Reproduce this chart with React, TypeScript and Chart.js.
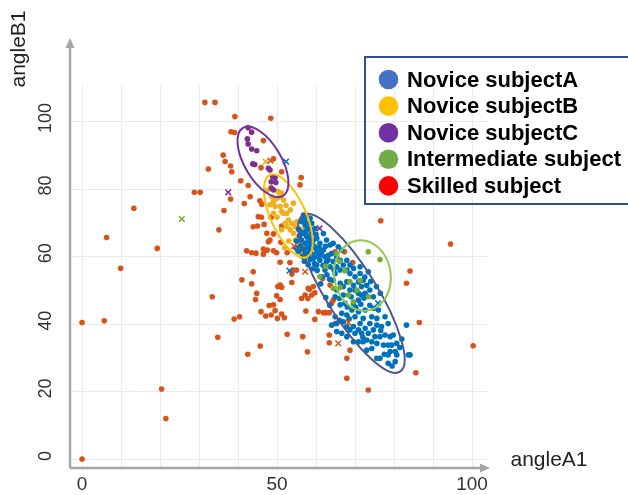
import React, { useEffect, useRef } from 'react';
import { Chart, registerables } from 'chart.js';

Chart.register(...registerables);

// ---------- data ----------
const xTickValues = [0, 50, 100];
const yTickValues = [0, 20, 40, 60, 80, 100];
const xGridValues = [0, 10, 20, 30, 40, 50, 60, 70, 80, 90, 100];
const yGridValues = [0, 20, 40, 60, 80, 100];
const xAxisTitle = 'angleA1';
const yAxisTitle = 'angleB1';

const legendLabels = ['Novice subjectA', 'Novice subjectB', 'Novice subjectC', 'Intermediate subject', 'Skilled subject'];
const legendColors = ['#4472C4', '#FFC000', '#7030A0', '#70AD47', '#FF0000'];

const noviceA: [number, number][] = [
  [56.3, 70.2], [57.2, 69.2], [58.0, 68.2], [56.8, 66.7], [57.6, 65.8], [58.9, 66.7], [59.3, 64.8], [60.2, 65.3],
  [61.0, 63.8], [59.7, 62.8], [58.5, 61.8], [60.6, 61.3], [61.9, 61.8], [62.3, 59.8], [63.2, 60.3], [64.0, 60.8],
  [61.0, 58.8], [62.7, 58.4], [64.4, 58.4], [63.6, 56.9], [65.3, 56.9], [66.2, 55.9], [67.0, 57.4], [67.9, 55.9],
  [68.7, 54.9], [69.6, 56.4], [70.0, 53.9], [71.3, 54.9], [70.9, 52.4], [72.1, 52.9], [73.0, 51.4], [71.7, 51.0],
  [69.6, 51.4], [67.9, 52.4], [67.0, 51.0], [68.7, 50.0], [70.0, 50.0], [70.9, 49.0], [72.6, 49.0], [73.8, 50.0],
  [74.7, 48.0], [67.0, 48.5], [65.3, 50.0], [66.2, 52.0], [64.4, 52.9], [64.9, 54.9], [62.3, 55.9], [61.5, 53.9],
  [60.2, 57.4], [59.3, 59.3], [57.6, 60.8], [57.2, 63.8], [56.3, 64.8], [65.3, 59.8], [66.2, 58.8], [66.6, 61.8],
  [73.4, 55.4], [71.3, 56.9], [61.9, 66.7], [62.7, 64.8], [63.6, 63.3], [58.9, 69.7], [59.7, 68.2], [57.6, 71.7],
  [56.8, 72.2], [58.5, 71.2], [64.4, 63.8], [65.7, 62.8], [67.9, 58.8], [68.7, 57.4],
  [64.9, 48.0], [66.2, 45.6], [67.4, 46.1], [66.6, 43.1], [67.9, 42.6], [69.2, 44.1], [69.6, 46.1], [70.9, 47.0],
  [71.7, 48.5], [72.3, 47.6], [64.9, 42.1], [65.3, 40.1], [67.0, 40.6], [70.0, 42.1], [70.9, 43.6], [72.1, 41.6],
  [72.6, 44.1], [74.3, 42.1], [73.8, 40.1], [71.3, 40.1], [69.6, 39.2], [68.7, 38.2], [66.6, 37.2], [67.9, 36.2],
  [70.0, 37.2], [70.9, 38.2], [72.6, 38.7], [71.7, 37.2], [73.4, 37.2], [75.1, 36.2], [76.4, 36.2], [77.7, 36.7],
  [79.0, 36.2], [79.8, 36.7], [78.5, 40.1], [76.8, 39.2], [75.6, 39.6], [74.7, 38.2], [77.7, 42.1], [76.0, 44.1],
  [75.6, 41.6], [69.6, 34.7], [70.9, 34.7], [72.1, 34.7], [73.0, 35.2], [74.3, 34.7], [75.6, 34.2], [74.3, 32.7],
  [73.0, 32.2], [77.3, 33.7], [78.5, 33.7], [79.4, 33.7], [80.7, 34.2], [80.3, 31.8], [79.0, 31.8], [80.7, 30.8],
  [78.5, 30.8], [75.6, 29.8], [76.4, 29.8], [80.3, 28.8], [78.5, 28.3], [83.2, 39.6], [83.7, 30.8], [67.9, 39.2],
  [65.3, 37.7], [64.0, 39.6], [84.1, 30.8],
  [55.5, 68.0], [55.8, 66.0], [56.0, 63.0], [55.5, 61.5], [56.5, 60.0], [57.0, 58.5], [58.0, 57.5], [55.0, 64.5],
  [54.8, 62.5], [57.5, 67.5], [58.4, 63.3], [59.5, 60.5], [60.5, 59.8], [58.5, 59.0], [59.6, 57.8], [61.8, 57.3],
  [62.8, 54.5], [63.5, 53.2], [60.3, 55.8], [61.2, 51.8], [68.0, 45.0], [70.2, 44.9], [73.8, 45.5], [74.8, 44.6],
  [71.5, 45.8], [76.6, 38.0], [72.0, 36.0], [68.5, 41.5], [66.0, 41.0], [63.5, 45.5], [62.5, 47.8], [66.0, 47.5],
  [69.0, 48.0], [74.0, 52.5], [75.5, 51.0], [72.5, 53.8], [76.5, 49.0], [77.5, 31.0], [81.5, 33.0], [82.0, 35.5],
  [79.5, 27.5], [57.0, 70.5], [58.2, 69.8], [59.0, 67.5], [60.0, 66.5], [56.0, 67.2], [57.8, 62.5], [59.0, 63.8],
  [60.8, 62.5], [58.0, 64.5], [56.9, 71.2], [57.4, 66.6], [58.6, 65.4], [56.6, 62.2], [57.3, 61.0], [58.1, 60.2],
  [60.1, 61.9], [61.4, 60.4], [62.4, 62.9], [59.2, 56.3], [63.1, 58.9], [64.6, 56.0],
];

const noviceB: [number, number][] = [
  [48.4, 80.3], [50.3, 79.1], [51.2, 78.6], [47.5, 79.5], [48.7, 77.6], [49.9, 77.1], [50.8, 77.6], [51.7, 76.6],
  [54.2, 75.7], [49.1, 76.1], [48.2, 75.2], [50.8, 74.7], [49.5, 74.7], [52.3, 75.0], [51.2, 73.2], [52.5, 72.7],
  [53.4, 73.7], [51.6, 72.7], [49.1, 72.7], [50.0, 71.5], [52.9, 70.7], [53.8, 69.7], [54.7, 68.8], [55.1, 70.2],
  [52.1, 69.7], [52.5, 68.8], [53.4, 67.8], [51.2, 67.8], [56.4, 67.8], [54.2, 66.8], [55.5, 65.8], [54.7, 64.8],
  [53.0, 64.5], [55.9, 63.8], [52.0, 62.5], [55.1, 61.8], [56.0, 61.0],
];

const noviceC: [number, number][] = [
  [42.6, 98.0], [43.5, 96.7], [42.4, 94.7], [42.6, 93.2], [43.5, 91.7], [44.8, 91.2], [43.8, 87.3], [44.3, 87.1],
  [47.8, 86.0], [48.2, 85.5], [48.9, 83.5], [49.5, 83.3], [48.5, 82.0], [49.7, 81.8], [48.6, 80.1], [49.1, 79.6],
];

const intermediate: [number, number][] = [
  [73.4, 61.3], [76.4, 59.0], [67.4, 55.7], [66.2, 50.8], [64.4, 50.5], [71.3, 52.9], [68.3, 48.5], [69.6, 46.5],
  [73.4, 48.0], [61.0, 53.9], [65.3, 60.8], [68.7, 52.4], [66.0, 58.5], [70.5, 50.0], [62.5, 57.0],
];

const skilled: [number, number][] = [
  [31.5, 105.5], [34.1, 105.5], [39.2, 101.3], [48.4, 100.8], [38.2, 96.8], [39.1, 96.6], [46.5, 94.2], [36.2, 89.9],
  [36.7, 88.0], [38.1, 86.7], [32.4, 85.8], [38.4, 85.0], [49.1, 88.8], [45.9, 86.2], [51.2, 85.0], [40.7, 82.3],
  [42.6, 80.9], [56.2, 83.3], [55.9, 81.1], [28.8, 78.9], [30.3, 78.9], [38.1, 76.9], [43.1, 77.6], [13.3, 74.2],
  [6.3, 65.5], [19.3, 62.3], [9.9, 56.4], [0.0, 40.4], [5.7, 40.9], [20.4, 20.7], [21.5, 12.0], [0.0, 0.0],
  [94.5, 63.6], [84.1, 55.6], [86.5, 40.4], [100.3, 33.5], [85.6, 25.5], [76.6, 70.5], [83.2, 52.0],
  [36.4, 73.5], [41.6, 75.6], [45.6, 76.4], [46.1, 75.4], [35.1, 67.8], [45.2, 71.7], [46.0, 71.5], [45.0, 68.9],
  [46.7, 69.4], [48.5, 71.5], [49.1, 66.6], [47.8, 64.3], [51.0, 64.1], [51.2, 68.9], [42.2, 61.6], [43.5, 61.0],
  [44.6, 60.9], [46.5, 62.1], [46.9, 61.6], [46.5, 60.6], [49.9, 61.0], [52.6, 61.0], [50.8, 58.2], [43.9, 55.4],
  [41.0, 53.0], [43.5, 51.8], [50.8, 51.5], [51.2, 50.8], [54.2, 55.9], [55.0, 55.9], [43.9, 68.7], [47.4, 66.8],
  [48.2, 64.8], [47.5, 61.8], [49.1, 61.6], [53.3, 58.1], [53.8, 54.7], [53.8, 52.2],
  [33.4, 48.0], [50.2, 51.0], [44.8, 49.0], [44.5, 47.2], [49.9, 48.3], [50.8, 47.2], [48.0, 45.4], [49.1, 45.6],
  [45.9, 43.6], [47.1, 42.3], [48.5, 42.6], [50.1, 41.6], [49.5, 43.9], [51.2, 42.9], [51.9, 41.8], [39.0, 41.4],
  [40.4, 42.1], [56.3, 47.5], [57.2, 48.5], [57.9, 47.5], [58.3, 50.2], [57.4, 43.8], [34.8, 36.0], [52.6, 36.9],
  [56.6, 36.2], [45.7, 33.4], [42.5, 31.0], [57.8, 31.7],
  [59.7, 49.2], [60.6, 43.6], [61.9, 43.3], [62.6, 43.3], [63.4, 43.3], [64.0, 46.1], [64.4, 47.0], [59.7, 41.3],
  [64.9, 40.1], [63.4, 36.7], [63.4, 34.4], [68.7, 32.2], [67.9, 29.8], [67.9, 23.9], [73.4, 20.4],
  [67.3, 61.3], [69.4, 58.1], [64.9, 61.3], [59.3, 51.0], [58.0, 50.5], [58.9, 48.5], [61.7, 53.4], [63.6, 51.5],
];

// mean markers (crosses)
const noviceACross: [number, number][] = [[52.3, 88.0], [53.2, 55.7], [75.9, 46.1]];
const noviceBCross: [number, number][] = [[47.1, 88.0]];
const noviceCCross: [number, number][] = [[37.5, 78.9], [60.9, 68.2]];
const intermediateCross: [number, number][] = [[25.6, 71.0]];
const skilledCross: [number, number][] = [[48.3, 88.3], [54.4, 63.0], [57.2, 55.4], [65.7, 34.2], [68.3, 40.4]];

// confidence ellipses: centre and two half-axis vectors, in data units
const ellipseCentres: [number, number][] = [[69.1, 49.0], [52.9, 71.9], [46.4, 87.9], [71.9, 54.3]];
const ellipseAxisU: [number, number][] = [[12.44, -23.17], [4.74, -12.13], [5.13, -10.06], [1.28, -10.36]];
const ellipseAxisV: [number, number][] = [[5.54, 3.96], [4.11, 2.14], [4.05, 2.75], [7.18, 1.18]];
const ellipseColors = ['#4B5A8C', '#FFC000', '#7030A0', '#92C850'];

// ---------- styles ----------
const pointColors = {
  a: '#0072BD',
  b: '#EDB120',
  c: '#7E2F8E',
  i: '#77AC30',
  s: '#D95319',
};

const FONT = '"Liberation Sans", Arial, sans-serif';

const toXY = (arr: [number, number][]) => arr.map(([x, y]) => ({ x, y }));

const gridPlugin = {
  id: 'customGrid',
  beforeDatasetsDraw(chart: any) {
    const { ctx, chartArea } = chart;
    const xs = chart.scales.x;
    const ys = chart.scales.y;
    ctx.save();
    ctx.strokeStyle = '#EBEBEB';
    ctx.lineWidth = 1;
    const gridTop = ys.getPixelForValue(110.6);
    const gridRight = xs.getPixelForValue(104);
    xGridValues.forEach((v) => {
      const px = Math.round(xs.getPixelForValue(v)) + 0.5;
      ctx.beginPath();
      ctx.moveTo(px, gridTop);
      ctx.lineTo(px, chartArea.bottom);
      ctx.stroke();
    });
    yGridValues.forEach((v) => {
      const py = Math.round(ys.getPixelForValue(v)) + 0.5;
      ctx.beginPath();
      ctx.moveTo(chartArea.left, py);
      ctx.lineTo(gridRight, py);
      ctx.stroke();
    });
    ctx.restore();
  },
};

const overlayPlugin = {
  id: 'overlay',
  afterDatasetsDraw(chart: any) {
    const { ctx, chartArea } = chart;
    const xs = chart.scales.x;
    const ys = chart.scales.y;

    // ellipses
    ellipseCentres.forEach((c, i) => {
      const cx = xs.getPixelForValue(c[0]);
      const cy = ys.getPixelForValue(c[1]);
      const ux = xs.getPixelForValue(c[0] + ellipseAxisU[i][0]) - cx;
      const uy = ys.getPixelForValue(c[1] + ellipseAxisU[i][1]) - cy;
      const vx = xs.getPixelForValue(c[0] + ellipseAxisV[i][0]) - cx;
      const vy = ys.getPixelForValue(c[1] + ellipseAxisV[i][1]) - cy;
      ctx.save();
      ctx.beginPath();
      ctx.transform(ux, uy, vx, vy, cx, cy);
      ctx.arc(0, 0, 1, 0, Math.PI * 2);
      ctx.restore();
      ctx.save();
      ctx.lineWidth = 2;
      ctx.strokeStyle = ellipseColors[i];
      ctx.stroke();
      ctx.restore();
    });

    // axes with arrows
    ctx.save();
    ctx.strokeStyle = '#A6A6A6';
    ctx.fillStyle = '#A6A6A6';
    ctx.lineWidth = 2.5;
    const left = chartArea.left;
    const bottom = chartArea.bottom;
    ctx.beginPath();
    ctx.moveTo(left, bottom);
    ctx.lineTo(left, chartArea.top + 6);
    ctx.moveTo(left, bottom);
    ctx.lineTo(chartArea.right - 6, bottom);
    ctx.stroke();
    ctx.beginPath();
    ctx.moveTo(left, chartArea.top - 2);
    ctx.lineTo(left - 4.5, chartArea.top + 8);
    ctx.lineTo(left + 4.5, chartArea.top + 8);
    ctx.closePath();
    ctx.fill();
    ctx.beginPath();
    ctx.moveTo(chartArea.right + 2, bottom);
    ctx.lineTo(chartArea.right - 8, bottom - 4.5);
    ctx.lineTo(chartArea.right - 8, bottom + 4.5);
    ctx.closePath();
    ctx.fill();
    ctx.restore();

    // tick labels
    ctx.save();
    ctx.fillStyle = '#333333';
    ctx.font = `19px ${FONT}`;
    ctx.textAlign = 'center';
    ctx.textBaseline = 'middle';
    xTickValues.forEach((v) => {
      ctx.fillText(String(v), xs.getPixelForValue(v), bottom + 17);
    });
    ctx.font = `18px ${FONT}`;
    yTickValues.forEach((v) => {
      ctx.save();
      ctx.translate(left - 24, ys.getPixelForValue(v) - 3);
      ctx.rotate(-Math.PI / 2);
      ctx.fillText(String(v), 0, 0);
      ctx.restore();
    });
    ctx.restore();

    // axis titles
    ctx.save();
    ctx.fillStyle = '#222222';
    ctx.font = `21px ${FONT}`;
    ctx.textAlign = 'center';
    ctx.textBaseline = 'middle';
    ctx.fillText(xAxisTitle, 549, 460);
    ctx.translate(19, 49);
    ctx.rotate(-Math.PI / 2);
    ctx.fillText(yAxisTitle, 0, 0);
    ctx.restore();

    // legend
    ctx.save();
    ctx.strokeStyle = '#2F528F';
    ctx.lineWidth = 2;
    ctx.strokeRect(365, 57, 280, 147);
    ctx.font = `bold 22px ${FONT}`;
    ctx.textAlign = 'left';
    ctx.textBaseline = 'middle';
    legendLabels.forEach((label, i) => {
      const y = 79.5 + i * 26.6;
      ctx.beginPath();
      ctx.fillStyle = legendColors[i];
      ctx.arc(388.5, y, 9.8, 0, Math.PI * 2);
      ctx.fill();
      ctx.fillStyle = '#000000';
      ctx.fillText(label, 407, y + 1);
    });
    ctx.restore();
  },
};

export default function App() {
  const canvasRef = useRef<HTMLCanvasElement | null>(null);

  useEffect(() => {
    const canvas = canvasRef.current;
    if (!canvas) return;
    const dot = (data: [number, number][], color: string, order: number) => ({
      data: toXY(data),
      backgroundColor: color,
      borderColor: color,
      borderWidth: 0,
      pointRadius: 2.8,
      pointHoverRadius: 2.8,
      order,
    });
    const cross = (data: [number, number][], color: string) => ({
      data: toXY(data),
      backgroundColor: color,
      borderColor: color,
      borderWidth: 1.5,
      pointStyle: 'crossRot',
      pointRadius: 4,
      order: 0,
    });
    const chart = new Chart(canvas, {
      type: 'scatter',
      data: {
        datasets: [
          dot(skilled, pointColors.s, 6),
          dot(noviceB, pointColors.b, 5),
          dot(noviceA, pointColors.a, 4),
          dot(noviceC, pointColors.c, 3),
          dot(intermediate, pointColors.i, 2),
          cross(skilledCross, pointColors.s),
          cross(noviceACross, pointColors.a),
          cross(noviceBCross, pointColors.b),
          cross(noviceCCross, pointColors.c),
          cross(intermediateCross, pointColors.i),
        ] as any,
      },
      options: {
        animation: false,
        responsive: false,
        layout: { padding: { left: 70, right: 140, top: 40, bottom: 27 } },
        plugins: { legend: { display: false }, tooltip: { enabled: false } },
        scales: {
          x: { type: 'linear', min: -3.08, max: 104.1, display: false },
          y: { type: 'linear', min: -2.66, max: 123.96, display: false },
        },
      },
      plugins: [gridPlugin, overlayPlugin],
    } as any);
    return () => chart.destroy();
  }, []);

  return (
    <div style={{ position: 'absolute', left: 0, top: 0, width: 628, height: 495, background: '#ffffff' }}>
      <canvas ref={canvasRef} width={628} height={495} />
    </div>
  );
}
